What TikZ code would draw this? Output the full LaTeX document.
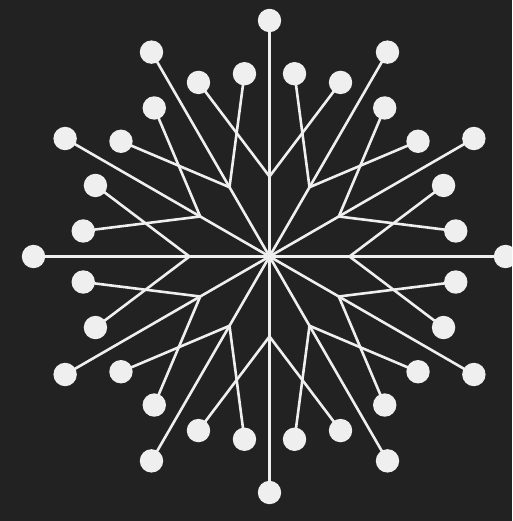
\documentclass[tikz,border=0pt]{standalone}
\definecolor{bgcol}{HTML}{222222}
\definecolor{inkcol}{HTML}{EFEFEF}
\tikzset{
  ray/.style={draw=inkcol, line width=2.6pt},
  dot/.style={circle, fill=inkcol, draw=none, minimum size=23.4pt, inner sep=0pt}
}
\begin{document}
\begin{tikzpicture}[x=1pt,y=1pt]
\useasboundingbox (-269.5,-264.5) rectangle (242.5,256.5);
\clip (-269.5,-264.5) rectangle (242.5,256.5);
\fill[bgcol] (-269.5,-264.5) rectangle (242.5,256.5);
\coordinate (c) at (0,0);
\foreach \k in {0,...,11}{
  \pgfmathsetmacro\a{90+30*\k}
  \pgfmathsetmacro\rp{(\k==5) ? 184.5 : ((\k==11) ? 184.5 : 188)}
  \pgfmathsetmacro\rq{(\k==1) ? 184.5 : ((\k==7) ? 184.5 : 188)}
  \coordinate (o\k) at (\a:236);
  \coordinate (b\k) at (\a:80);
  \coordinate (p\k) at ({\a+22.2}:\rp);
  \coordinate (q\k) at ({\a-22.2}:\rq);
  \draw[ray] (c) -- (o\k);
  \draw[ray] (b\k) -- (p\k);
  \draw[ray] (b\k) -- (q\k);
}
\foreach \k in {0,...,11}{
  \node[dot] (O\k) at (o\k) {};
  \node[dot] (P\k) at (p\k) {};
  \node[dot] (Q\k) at (q\k) {};
}
\end{tikzpicture}
\end{document}
